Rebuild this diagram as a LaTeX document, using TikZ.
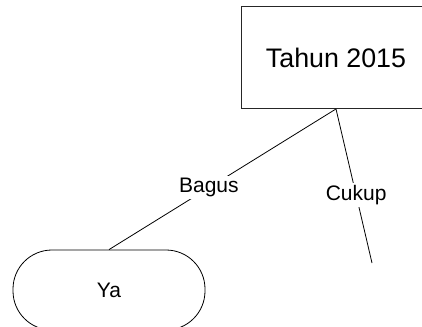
\documentclass[tikz,border=0pt]{standalone}
\usepackage{fontspec}
\setmainfont{Liberation Sans}
\begin{document}
\begin{tikzpicture}[x=1pt,y=-1pt,
  titlebox/.style={draw=black!85,line width=0.9pt,rectangle,minimum width=190pt,minimum height=102pt,inner sep=0pt,font=\fontsize{26.8}{30}\selectfont},
  endbox/.style={draw=black,line width=0.8pt,rectangle,rounded corners=39pt,minimum width=192pt,minimum height=80pt,inner sep=0pt,font=\fontsize{21}{25}\selectfont},
  edgelabel/.style={fill=white,inner sep=2pt,font=\fontsize{21}{25}\selectfont},
  conn/.style={draw=black,line width=0.8pt}]
\useasboundingbox (0,0) rectangle (422,326);
\clip (0,0) rectangle (422,326);
\node[titlebox] (t) at (336,57.5) {Tahun 2015};
\node[endbox] (ya) at (109,290) {Ya};
\coordinate (c) at (372,263);
\draw[conn] (t.south) -- node[edgelabel,pos=0.56] {Bagus} (ya.north);
\draw[conn] (t.south) -- node[edgelabel,pos=0.56] {Cukup} (c);
\end{tikzpicture}
\end{document}
